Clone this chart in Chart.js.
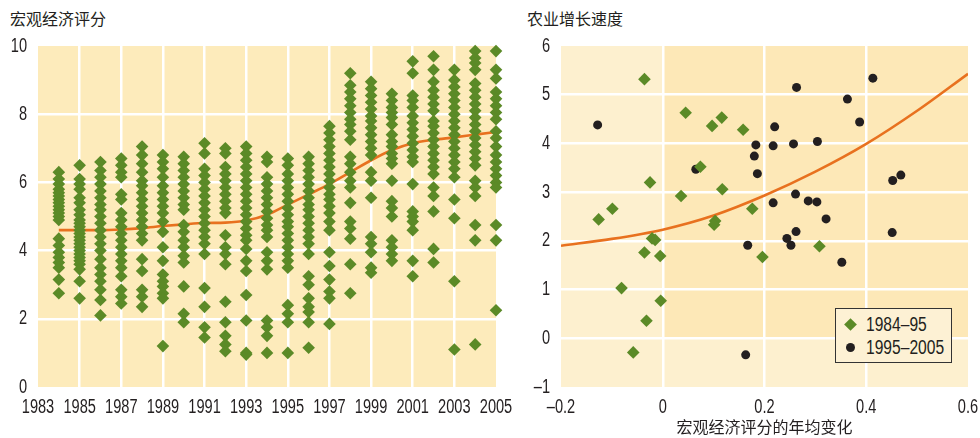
<!DOCTYPE html>
<html>
<head>
<meta charset="utf-8">
<script src="https://cdn.jsdelivr.net/npm/chart.js@4.4.0/dist/chart.umd.min.js"></script>
<style>
body { margin: 0; width: 980px; height: 438px; position: relative; overflow: hidden; background: #fff; font-family: "Noto Sans CJK SC", sans-serif; color: #231f20; }
canvas { position: absolute; top: 0; }
#left { left: 0; }
#right { left: 515px; }
.title { position: absolute; top: 8px; font-size: 16px; line-height: 20px; }
#legend { position: absolute; left: 835px; top: 308px; width: 115px; height: 53px; border: 1.5px solid #333; background: #fdf1d4; font-family: "Liberation Sans", sans-serif; font-size: 20px; }
#legend .row { position: absolute; left: 0; width: 115px; height: 22px; }
#legend .mark { position: absolute; left: 10px; top: 7px; width: 9px; height: 9px; }
#legend .txt { position: absolute; left: 30px; top: 0; line-height: 22px; white-space: nowrap; transform: scaleX(0.78); transform-origin: 0 50%; }
</style>
</head>
<body>
<div class="title" style="left:10px">宏观经济评分</div>
<div class="title" style="left:527px">农业增长速度</div>
<canvas id="left" width="515" height="438"></canvas>
<canvas id="right" width="465" height="438"></canvas>
<div id="legend"></div>
<script>
// Left panel: macro score of each country by year
const scoreYears = [1984, 1985, 1986, 1987, 1988, 1989, 1990, 1991, 1992, 1993, 1994,
    1995, 1996, 1997, 1998, 1999, 2000, 2001, 2002, 2003, 2004, 2005]
const y1984 = [6.3, 6.1, 5.95, 5.8, 5.7, 5.6, 5.5, 5.4, 5.3, 5.2, 5.1, 5.0, 4.9, 4.35, 4.15, 3.95, 3.8, 3.65, 3.5, 3.15, 2.75]
const y1985 = [6.5, 6.1, 5.95, 5.8, 5.55, 5.4, 5.2, 5.05, 4.9, 4.8, 4.7, 4.6, 4.5, 4.4, 4.3, 4.2, 4.1, 4.0, 3.9, 3.8, 3.7, 3.6, 3.45, 3.1, 2.6]
const y1986 = [6.6, 6.35, 6.15, 5.95, 5.75, 5.55, 5.35, 5.2, 5.0, 4.8, 4.6, 4.4, 4.2, 4.0, 3.75, 3.5, 3.3, 3.1, 2.85, 2.55, 2.1]
const y1987 = [6.7, 6.5, 6.3, 6.15, 5.65, 5.5, 5.1, 4.9, 4.7, 4.5, 4.3, 4.1, 3.9, 3.7, 3.5, 3.25, 2.85, 2.65, 2.45]
const y1988 = [7.05, 6.8, 6.55, 6.3, 6.05, 5.9, 5.7, 5.5, 5.3, 5.1, 4.9, 4.7, 4.5, 4.3, 3.75, 3.4, 2.85, 2.65, 2.35]
const y1989 = [6.8, 6.6, 6.4, 6.15, 5.9, 5.7, 5.5, 5.3, 5.1, 4.85, 4.55, 4.1, 3.7, 3.3, 3.1, 2.95, 2.75, 2.6, 1.2]
const y1990 = [6.75, 6.55, 6.35, 6.15, 5.95, 5.75, 5.55, 5.35, 5.2, 4.75, 4.55, 4.3, 4.1, 3.85, 3.65, 2.95, 2.15, 1.9]
const y1991 = [7.15, 6.85, 6.4, 6.2, 6.0, 5.8, 5.6, 5.4, 5.2, 5.0, 4.8, 4.6, 4.4, 4.2, 3.9, 2.9, 2.35, 1.75, 1.45]
const y1992 = [7.0, 6.85, 6.45, 6.25, 6.05, 5.85, 5.65, 5.45, 5.25, 5.1, 4.45, 4.1, 3.9, 3.6, 2.5, 1.9, 1.5, 1.25, 1.05]
const y1993 = [7.05, 6.85, 6.65, 6.45, 6.25, 6.05, 5.85, 5.65, 5.45, 5.25, 5.05, 4.85, 4.65, 4.45, 4.3, 4.05, 3.7, 3.4, 2.7, 1.95, 1.0, 0.95]
const y1994 = [6.75, 6.6, 6.15, 5.95, 5.75, 5.55, 5.35, 5.15, 4.95, 4.75, 4.6, 4.4, 3.95, 3.7, 3.45, 1.95, 1.75, 1.5, 1.0]
const y1995 = [6.7, 6.5, 6.25, 6.05, 5.85, 5.65, 5.45, 5.25, 5.05, 4.85, 4.7, 4.5, 4.3, 4.1, 3.9, 3.7, 3.5, 2.4, 2.15, 1.9, 1.0]
const y1996 = [6.75, 6.55, 6.35, 6.15, 5.95, 5.75, 5.55, 5.35, 5.2, 5.0, 4.8, 4.6, 4.4, 4.2, 3.9, 3.25, 3.0, 2.6, 2.35, 2.2, 1.9, 1.15]
const y1997 = [7.65, 7.45, 7.25, 7.05, 6.85, 6.65, 6.45, 6.25, 6.05, 5.85, 5.65, 5.5, 5.3, 5.1, 4.85, 4.6, 3.95, 3.55, 3.15, 2.8, 2.6, 1.85]
const y1998 = [9.2, 8.85, 8.65, 8.45, 8.25, 8.05, 7.85, 7.7, 7.5, 7.25, 6.75, 6.55, 6.3, 6.05, 5.85, 5.4, 4.85, 4.65, 4.35, 3.6, 2.75]
const y1999 = [8.95, 8.75, 8.55, 8.35, 8.15, 7.95, 7.8, 7.6, 7.4, 7.2, 7.0, 6.8, 6.3, 6.05, 5.55, 4.4, 4.2, 3.95, 3.5, 3.35]
const y2000 = [8.6, 8.4, 8.2, 8.05, 7.9, 7.7, 7.4, 7.2, 7.05, 6.85, 6.7, 6.55, 6.05, 5.45, 5.25, 5.0, 4.3, 4.1, 3.9, 3.7]
const y2001 = [9.55, 9.2, 8.55, 8.4, 8.2, 7.95, 7.75, 7.55, 7.35, 7.15, 6.95, 6.75, 6.6, 5.95, 5.15, 5.0, 4.85, 4.6, 3.7, 3.25]
const y2002 = [9.7, 9.3, 8.95, 8.7, 8.5, 8.3, 8.1, 7.8, 7.65, 7.45, 7.25, 7.05, 6.85, 6.65, 6.45, 6.25, 5.85, 5.6, 5.15, 4.05, 3.65]
const y2003 = [9.3, 9.0, 8.8, 8.6, 8.4, 8.2, 8.0, 7.8, 7.6, 7.4, 7.2, 7.0, 6.8, 6.6, 6.4, 6.15, 5.5, 4.95, 3.1, 1.1]
const y2004 = [9.85, 9.65, 9.5, 9.3, 8.9, 8.7, 8.5, 8.3, 8.1, 7.9, 7.7, 7.5, 7.3, 7.1, 6.9, 6.7, 6.5, 6.05, 5.85, 5.6, 4.75, 4.3, 1.25]
const y2005 = [9.85, 9.3, 9.05, 8.65, 8.45, 8.25, 8.05, 7.85, 7.5, 7.3, 7.05, 6.8, 6.6, 6.4, 6.2, 6.0, 5.85, 4.75, 4.3, 2.25]
const scoreColumns = [y1984, y1985, y1986, y1987, y1988, y1989, y1990, y1991, y1992, y1993, y1994,
    y1995, y1996, y1997, y1998, y1999, y2000, y2001, y2002, y2003, y2004, y2005]

// Orange trend in the left panel
const trendScore = [4.6, 4.6, 4.6, 4.62, 4.66, 4.72, 4.77, 4.81, 4.82, 4.88, 5.05,
    5.35, 5.65, 5.95, 6.3, 6.65, 6.95, 7.15, 7.25, 7.32, 7.4, 7.48]

const yearTicks = [1983, 1985, 1987, 1989, 1991, 1993, 1995, 1997, 1999, 2001, 2003, 2005]
const scoreTicks = [0, 2, 4, 6, 8, 10]

// Right panel: change of macro score vs. agricultural growth
const seriesLabels = ["1984–95", "1995–2005"]
const chg8495 = [-0.036, -0.025, 0.045, 0.097, 0.116, 0.158, 0.074, 0.036, 0.117, 0.176, -0.099, -0.126,
    -0.021, -0.015, -0.036, -0.005, -0.081, -0.004, -0.032, -0.058, 0.103, 0.101, 0.196, 0.308]
const agr8495 = [5.32, 3.2, 4.63, 4.36, 4.53, 4.28, 3.52, 2.92, 3.06, 2.66, 2.66, 2.44,
    2.05, 2.02, 1.76, 1.69, 1.03, 0.77, 0.36, -0.29, 2.41, 2.33, 1.67, 1.89]
const chg9505 = [-0.128, 0.065, 0.183, 0.18, 0.186, 0.263, 0.413, 0.363, 0.387, 0.22, 0.217, 0.257, 0.304, 0.452,
    0.468, 0.217, 0.261, 0.286, 0.303, 0.321, 0.167, 0.163, 0.244, 0.252, 0.262, 0.352, 0.451]
const agr9505 = [4.38, 3.47, 3.97, 3.74, 3.38, 5.15, 5.34, 4.91, 4.44, 4.34, 3.95, 3.99, 4.04, 3.24,
    3.35, 2.78, 2.96, 2.82, 2.8, 2.45, 1.91, -0.34, 2.05, 1.91, 2.19, 1.56, 2.17]

// Orange fitted curve in the right panel
const fitChg = [-0.2, -0.1, 0, 0.1, 0.2, 0.3, 0.4, 0.5, 0.6]
const fitAgr = [1.9, 2.04, 2.23, 2.52, 2.93, 3.42, 3.99, 4.67, 5.43]

const chgTicks = [-0.2, 0, 0.2, 0.4, 0.6]
const chgTickText = ["–0.2", "0", "0.2", "0.4", "0.6"]
const agrTicks = [-1, 0, 1, 2, 3, 4, 5, 6]
const agrTickText = ["–1", "0", "1", "2", "3", "4", "5", "6"]

const green = "#5b8a27"
const dark = "#231f20"
const orange = "#e8711f"
const tickFont = { family: '"Liberation Sans", sans-serif', size: 20 }
const narrow = 0.73

Chart.defaults.color = dark
Chart.defaults.animation = false

// Fill the plot area, the right panel has a darker upper right quadrant
const panelBg = {
    id: "panelBg",
    beforeDraw(chart, args, opts) {
        const { ctx, chartArea: a, scales } = chart
        ctx.save()
        ctx.fillStyle = opts.color
        ctx.fillRect(a.left, a.top, a.width, a.height)
        if (opts.quadColor) {
            const x0 = scales.x.getPixelForValue(0)
            const y0 = scales.y.getPixelForValue(0)
            ctx.fillStyle = opts.quadColor
            ctx.fillRect(x0, a.top, a.right - x0, y0 - a.top)
        }
        ctx.restore()
    }
}

// No condensed font installed: squeeze the numeric tick labels horizontally
const narrowTicks = {
    id: "narrowTicks",
    beforeDraw(chart) {
        const ctx = chart.ctx
        if (ctx.origFillText) return
        const orig = ctx.fillText
        ctx.origFillText = orig
        ctx.fillText = function (text, x, y, maxWidth) {
            if (!/^[–0-9.]+$/.test(text)) return orig.call(this, text, x, y, maxWidth)
            this.save()
            this.translate(x, y)
            this.scale(narrow, 1)
            orig.call(this, text, 0, 0)
            this.restore()
        }
    }
}

const gridColor = c => (c.index === 0 || c.index === c.scale.ticks.length - 1) ? "transparent" : "#fff"

const xAxis = (min, max, ticks, text, height) => ({
    type: "linear", min, max,
    afterBuildTicks: s => { s.ticks = ticks.map(v => ({ value: v })) },
    afterFit: s => { s.height = height; s.paddingLeft = 0; s.paddingRight = 0 },
    grid: { color: gridColor, lineWidth: 2.5, drawTicks: false },
    border: { display: false },
    ticks: { font: tickFont, padding: 8, maxRotation: 0, autoSkip: false, color: dark,
        callback: (v, i) => text[i] }
})

const yAxis = (min, max, ticks, text, width) => ({
    type: "linear", min, max,
    afterBuildTicks: s => { s.ticks = ticks.map(v => ({ value: v })) },
    afterFit: s => { s.width = width; s.paddingTop = 0; s.paddingBottom = 0 },
    grid: { color: gridColor, lineWidth: 2.5, drawTicks: false },
    border: { display: false },
    ticks: { font: tickFont, padding: 11, autoSkip: false, color: dark,
        callback: (v, i) => text[i] }
})

const scorePoints = []
scoreYears.forEach((yr, i) => scoreColumns[i].forEach(v => scorePoints.push({ x: yr, y: v })))

new Chart(document.getElementById("left"), {
    type: "scatter",
    data: {
        datasets: [{
            data: scorePoints,
            pointStyle: "rectRot",
            pointRadius: 6.3,
            backgroundColor: green,
            borderWidth: 0,
            clip: false,
            order: 1
        }, {
            data: scoreYears.map((yr, i) => ({ x: yr, y: trendScore[i] })),
            showLine: true,
            cubicInterpolationMode: "monotone",
            borderColor: orange,
            borderWidth: 2.6,
            pointRadius: 0,
            order: 2
        }]
    },
    options: {
        responsive: false,
        devicePixelRatio: 1,
        layout: { padding: { top: 46, right: 19, bottom: 0, left: 0 } },
        plugins: { legend: { display: false }, tooltip: { enabled: false }, panelBg: { color: "#fdebbb" } },
        scales: {
            x: xAxis(1983, 2005, yearTicks, yearTicks.map(String), 51),
            y: yAxis(0, 10, scoreTicks, scoreTicks.map(String), 38)
        }
    },
    plugins: [panelBg, narrowTicks]
})

const rightX = xAxis(-0.2, 0.6, chgTicks, chgTickText, 51)
rightX.title = {
    display: true,
    text: "宏观经济评分的年均变化",
    color: dark,
    font: { family: '"Noto Sans CJK SC", sans-serif', size: 16 },
    padding: { top: 0, bottom: 1 }
}

new Chart(document.getElementById("right"), {
    type: "scatter",
    data: {
        datasets: [{
            label: seriesLabels[0],
            data: chg8495.map((v, i) => ({ x: v, y: agr8495[i] })),
            pointStyle: "rectRot",
            pointRadius: 6.3,
            backgroundColor: green,
            borderWidth: 0,
            clip: false,
            order: 1
        }, {
            label: seriesLabels[1],
            data: chg9505.map((v, i) => ({ x: v, y: agr9505[i] })),
            pointStyle: "circle",
            pointRadius: 4.5,
            backgroundColor: dark,
            borderWidth: 0,
            clip: false,
            order: 1
        }, {
            data: fitChg.map((v, i) => ({ x: v, y: fitAgr[i] })),
            showLine: true,
            cubicInterpolationMode: "monotone",
            borderColor: orange,
            borderWidth: 2.6,
            pointRadius: 0,
            order: 2
        }]
    },
    options: {
        responsive: false,
        devicePixelRatio: 1,
        layout: { padding: { top: 46, right: 12, bottom: 0, left: 0 } },
        plugins: { legend: { display: false }, tooltip: { enabled: false },
            panelBg: { color: "#fdf0cf", quadColor: "#fde8b7" } },
        scales: {
            x: rightX,
            y: yAxis(-1, 6, agrTicks, agrTickText, 46)
        }
    },
    plugins: [panelBg, narrowTicks]
})

// Legend box inside the right panel
const legend = document.getElementById("legend")
const marks = [
    "background:" + green + ";transform:rotate(45deg);",
    "background:" + dark + ";border-radius:50%;"
]
seriesLabels.forEach((label, i) => {
    const row = document.createElement("div")
    row.className = "row"
    row.style.top = (4 + i * 23) + "px"
    const mark = document.createElement("span")
    mark.className = "mark"
    mark.style.cssText = marks[i]
    const txt = document.createElement("span")
    txt.className = "txt"
    txt.textContent = label
    row.appendChild(mark)
    row.appendChild(txt)
    legend.appendChild(row)
})
</script>
</body>
</html>
